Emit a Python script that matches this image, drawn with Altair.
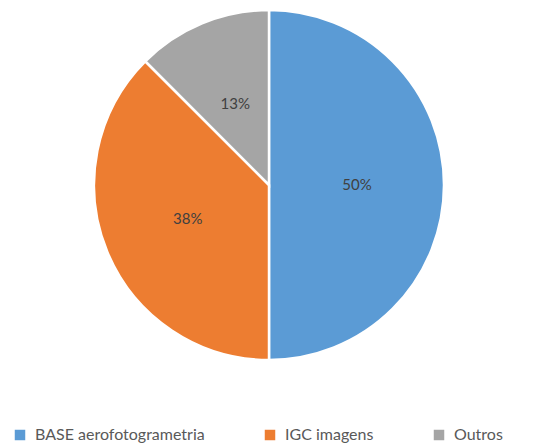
import altair as alt
import pandas as pd

# Share of each source
categories = ["BASE aerofotogrametria", "IGC imagens", "Outros"]
shares = [0.5, 0.375, 0.125]
colors = ["#5B9BD5", "#ED7D31", "#A5A5A5"]

df = pd.DataFrame({"fonte": categories, "share": shares, "ordem": [0, 1, 2]})

cx, cy, r = 269, 185, 175

base = alt.Chart(df).encode(
    theta=alt.Theta("share:Q", stack=True),
    order=alt.Order("ordem:Q"),
    x=alt.value(cx),
    y=alt.value(cy),
)

pie = base.mark_arc(radius=r, stroke="white", strokeWidth=2.5).encode(
    color=alt.Color(
        "fonte:N",
        scale=alt.Scale(domain=categories, range=colors),
        sort=categories,
        legend=alt.Legend(
            title=None,
            orient="none",
            direction="horizontal",
            legendX=12,
            legendY=427,
            symbolType="square",
            symbolSize=110,
            symbolStrokeWidth=0,
            labelFont="Lato",
            labelFontSize=16,
            labelColor="#595959",
            labelOffset=7,
            columnPadding=57,
            labelLimit=400,
        ),
    )
)

labels = base.mark_text(
    radius=88, font="Lato", fontSize=15, color="#404040"
).encode(text=alt.Text("share:Q", format=".0%"))

chart = (
    (pie + labels)
    .properties(width=557, height=447, padding=0, background="white")
    .configure_view(stroke=None)
)

chart.save("out.html", embed_options={"renderer": "svg", "actions": False})
